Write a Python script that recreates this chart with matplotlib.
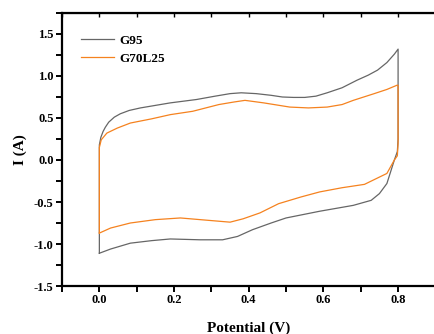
import numpy as np
import matplotlib.pyplot as plt
from matplotlib.ticker import MultipleLocator

plt.rcParams['font.family'] = ['Liberation Serif', 'DejaVu Serif']

# CV curves (potential V, current A)
g95_x = [0.0, 0.0, 0.004, 0.01, 0.016, 0.025, 0.04, 0.056, 0.08, 0.11, 0.19, 0.26, 0.31,
         0.35, 0.38, 0.42, 0.46, 0.49, 0.52, 0.55, 0.58, 0.61, 0.65, 0.69, 0.72, 0.745,
         0.77, 0.79, 0.80, 0.80, 0.798, 0.79, 0.78, 0.77, 0.75, 0.728, 0.68, 0.59, 0.50,
         0.46, 0.41, 0.37, 0.33, 0.27, 0.19, 0.14, 0.083, 0.03, 0.0]
g95_y = [-1.11, 0.18, 0.27, 0.34, 0.39, 0.45, 0.51, 0.55, 0.59, 0.62, 0.68, 0.72, 0.76,
         0.79, 0.80, 0.79, 0.77, 0.75, 0.745, 0.745, 0.76, 0.80, 0.86, 0.95, 1.01, 1.07,
         1.16, 1.26, 1.32, 0.25, 0.1, 0.0, -0.14, -0.28, -0.40, -0.48, -0.54, -0.61,
         -0.69, -0.75, -0.83, -0.91, -0.95, -0.95, -0.94, -0.96, -0.99, -1.06, -1.11]

g70_x = [0.0, 0.0, 0.005, 0.02, 0.048, 0.083, 0.14, 0.19, 0.25, 0.32, 0.36, 0.39, 0.44,
         0.51, 0.56, 0.61, 0.65, 0.68, 0.736, 0.77, 0.797, 0.80, 0.80, 0.798, 0.79, 0.77,
         0.71, 0.65, 0.59, 0.54, 0.48, 0.43, 0.385, 0.35, 0.27, 0.217, 0.15, 0.083, 0.03,
         0.0]
g70_y = [-0.87, 0.15, 0.24, 0.32, 0.38, 0.44, 0.49, 0.54, 0.58, 0.66, 0.69, 0.71, 0.68,
         0.63, 0.62, 0.63, 0.66, 0.71, 0.79, 0.84, 0.89, 0.89, 0.2, 0.05, 0.0, -0.16,
         -0.29, -0.33, -0.38, -0.44, -0.52, -0.63, -0.70, -0.74, -0.71, -0.69, -0.71,
         -0.75, -0.81, -0.87]

fig = plt.figure(figsize=(4.34, 3.34), dpi=100)
ax = fig.add_axes([0.1429, 0.1437, 0.8604, 0.8174])

ax.plot(g95_x, g95_y, color='#666666', lw=0.9, label='G95')
ax.plot(g70_x, g70_y, color='#f5821f', lw=0.9, label='G70L25')

ax.set_xlim(-0.1, 0.9)
ax.set_ylim(-1.5, 1.75)
ax.xaxis.set_minor_locator(MultipleLocator(0.1))
ax.yaxis.set_minor_locator(MultipleLocator(0.25))
ax.set_xticks(np.arange(0, 0.81, 0.2))
ax.set_xticklabels(['0.0', '0.2', '0.4', '0.6', '0.8'])
ax.set_yticks(np.arange(-1.5, 1.51, 0.5))
ax.set_yticklabels(['-1.5', '-1.0', '-0.5', '0.0', '0.5', '1.0', '1.5'])

for s in ['left', 'bottom', 'top']:
    ax.spines[s].set_linewidth(1.6)
ax.spines['right'].set_visible(False)
ax.tick_params(which='both', direction='out', width=1.4, length=4, labelsize=9, pad=2)
for t in ax.get_xticklabels() + ax.get_yticklabels():
    t.set_fontweight('bold')

top = ax.secondary_xaxis('top')
top.xaxis.set_major_locator(MultipleLocator(0.1))
top.tick_params(direction='in', length=3, width=1, labeltop=False)

ax.set_xlabel('Potential (V)', fontsize=11, fontweight='bold', labelpad=11)
ax.set_ylabel('I (A)', fontsize=11, fontweight='bold', labelpad=5)

ax.legend(loc='upper left', frameon=False, prop={'size': 9.5, 'weight': 'bold'},
          handlelength=2.5, handletextpad=0.4, labelspacing=0.45,
          bbox_to_anchor=(0.02, 0.965))

fig.savefig('out.png', dpi=100)
